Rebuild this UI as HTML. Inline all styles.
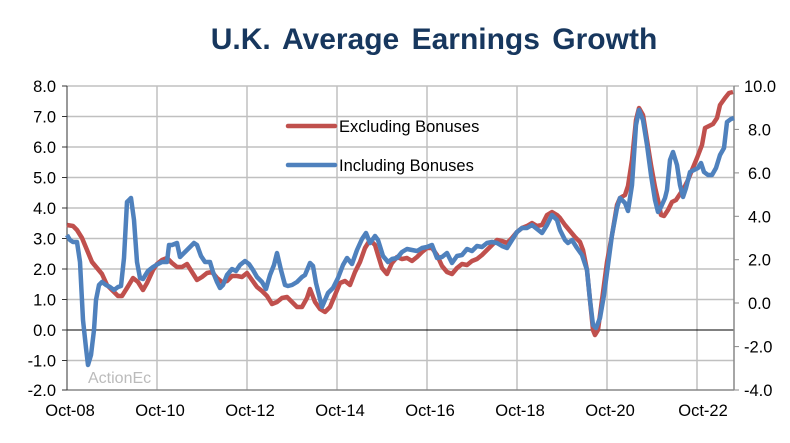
<!DOCTYPE html>
<html><head><style>body{margin:0;background:#fff}svg{display:block}</style></head><body>
<svg width="790" height="443" xmlns="http://www.w3.org/2000/svg" font-family="Liberation Sans, Arial, sans-serif">
<rect width="790" height="443" fill="#fff"/>
<text x="434" y="49" text-anchor="middle" font-size="30" font-weight="bold" fill="#17375e" word-spacing="4">U.K. Average Earnings Growth</text>
<g stroke="#c0c0c0" stroke-width="1.5">
<line x1="67" y1="86" x2="734" y2="86"/><line x1="67" y1="116.5" x2="734" y2="116.5"/><line x1="67" y1="147" x2="734" y2="147"/><line x1="67" y1="177.5" x2="734" y2="177.5"/><line x1="67" y1="208" x2="734" y2="208"/><line x1="67" y1="238.5" x2="734" y2="238.5"/><line x1="67" y1="269" x2="734" y2="269"/><line x1="67" y1="299.5" x2="734" y2="299.5"/><line x1="67" y1="360.5" x2="734" y2="360.5"/>
<line x1="157" y1="86" x2="157" y2="390"/><line x1="247" y1="86" x2="247" y2="390"/><line x1="337" y1="86" x2="337" y2="390"/><line x1="427" y1="86" x2="427" y2="390"/><line x1="517" y1="86" x2="517" y2="390"/><line x1="607" y1="86" x2="607" y2="390"/><line x1="697" y1="86" x2="697" y2="390"/>
</g>
<line x1="67" y1="330" x2="734" y2="330" stroke="#000" stroke-width="1"/>
<line x1="67" y1="390" x2="734" y2="390" stroke="#888" stroke-width="1.5"/>
<line x1="67" y1="86" x2="67" y2="390" stroke="#333" stroke-width="1"/>
<line x1="734" y1="86" x2="734" y2="390" stroke="#888" stroke-width="1.5"/>
<g stroke="#333"><line x1="62" y1="86" x2="67" y2="86"/><line x1="62" y1="116.5" x2="67" y2="116.5"/><line x1="62" y1="147" x2="67" y2="147"/><line x1="62" y1="177.5" x2="67" y2="177.5"/><line x1="62" y1="208" x2="67" y2="208"/><line x1="62" y1="238.5" x2="67" y2="238.5"/><line x1="62" y1="269" x2="67" y2="269"/><line x1="62" y1="299.5" x2="67" y2="299.5"/><line x1="62" y1="330" x2="67" y2="330"/><line x1="62" y1="360.5" x2="67" y2="360.5"/><line x1="62" y1="390" x2="67" y2="390"/></g>
<g stroke="#888"><line x1="734" y1="86" x2="739" y2="86"/><line x1="734" y1="129.4" x2="739" y2="129.4"/><line x1="734" y1="172.9" x2="739" y2="172.9"/><line x1="734" y1="216.3" x2="739" y2="216.3"/><line x1="734" y1="259.7" x2="739" y2="259.7"/><line x1="734" y1="303" x2="739" y2="303"/><line x1="734" y1="346.6" x2="739" y2="346.6"/><line x1="734" y1="390" x2="739" y2="390"/></g>
<g font-size="16.5" fill="#000" text-anchor="end">
<text x="56" y="92">8.0</text><text x="56" y="122.5">7.0</text><text x="56" y="153">6.0</text><text x="56" y="183.5">5.0</text><text x="56" y="214">4.0</text><text x="56" y="244.5">3.0</text><text x="56" y="275">2.0</text><text x="56" y="305.5">1.0</text><text x="56" y="336">0.0</text><text x="56" y="366.5">-1.0</text><text x="56" y="396">-2.0</text>
</g>
<g font-size="16.5" fill="#000" text-anchor="start">
<text x="744" y="92">10.0</text><text x="748" y="135.4">8.0</text><text x="748" y="178.9">6.0</text><text x="748" y="222.3">4.0</text><text x="748" y="265.7">2.0</text><text x="748" y="309">0.0</text><text x="744" y="352.6">-2.0</text><text x="744" y="396">-4.0</text>
</g>
<g font-size="16.5" fill="#000" text-anchor="middle">
<text x="70" y="416">Oct-08</text><text x="160" y="416">Oct-10</text><text x="250" y="416">Oct-12</text><text x="340" y="416">Oct-14</text><text x="430" y="416">Oct-16</text><text x="520" y="416">Oct-18</text><text x="610" y="416">Oct-20</text><text x="703" y="416">Oct-22</text>
</g>
<text x="88" y="383" font-size="16" fill="#bbb">ActionEc</text>
<polyline fill="none" stroke="#c0504d" stroke-width="4.5" stroke-linejoin="round" points="67,225 73,226 77,230 82,238 87,250 92,262 97,268 102,274 107,285 112,290 118,296 122,296 127,288 133,278 138,282 143,290 147,283 153,270 157,264 162,260 167,258 172,263 177,267 182,267 187,264 192,272 197,280 202,277 207,273 212,272 217,278 222,282 227,281 232,276 237,276 242,277 247,273 252,280 257,287 262,291 267,296 272,304 277,302 282,298 287,297 292,302 297,307 302,307 307,298 310,289 315,302 320,309 325,312 330,307 335,295 340,283 345,281 350,285 355,272 360,262 365,248 370,240 375,245 378,255 382,268 387,274 392,263 397,257 402,259 407,258 412,261 417,257 422,252 427,248 432,248 437,255 442,266 447,272 452,274 457,268 462,264 467,265 472,261 477,259 482,255 487,250 492,245 497,240 502,241 507,243 512,238 517,232 522,228 527,226 532,223 537,226 542,225 547,215 552,212 557,215 560,218 565,225 570,231 575,237 580,242 583,250 587,270 590,300 593,330 595,335 598,330 602,300 607,262 612,235 617,205 620,198 625,195 628,186 632,160 636,120 639,108 643,115 647,140 651,165 655,187 658,200 661,215 664,216 668,210 672,202 676,200 680,194 684,188 688,180 692,170 697,158 702,145 705,128 709,126 713,124 717,118 720,105 725,98 729,93 733,92"/>
<polyline fill="none" stroke="#4f81bd" stroke-width="4.5" stroke-linejoin="round" points="67,235 70,240 73,242 77,242 80,262 83,320 86,348 88,365 91,355 94,330 96,300 99,285 102,282 106,285 110,287 114,290 118,287 121,286 124,258 127,202 131,198 134,220 137,262 140,278 143,279 148,271 153,267 158,264 162,262 167,262 169,245 172,245 177,243 180,257 185,252 190,247 194,243 197,245 201,256 205,262 210,262 213,272 217,282 220,288 223,285 227,275 232,269 236,271 240,265 245,261 249,264 253,270 257,277 262,282 266,289 270,275 274,265 277,253 281,270 285,285 288,286 292,285 297,282 302,277 305,275 310,263 313,266 316,283 322,307 328,293 333,288 338,278 343,265 347,258 352,264 357,250 362,239 366,233 370,243 375,236 378,240 383,256 388,262 392,259 397,258 402,252 407,249 412,250 417,251 422,248 427,247 432,245 437,258 442,257 447,253 452,263 457,256 462,255 467,249 472,251 477,246 482,247 487,243 492,242 497,243 502,246 507,248 512,240 517,232 522,228 527,228 532,225 537,229 542,233 547,225 552,215 557,220 560,230 565,240 568,243 572,240 577,248 582,255 587,270 590,300 593,325 596,328 600,318 604,295 608,265 612,235 617,208 620,198 625,203 628,211 632,185 636,125 639,110 643,120 647,145 651,175 655,200 658,212 661,207 665,198 667,190 670,160 673,152 677,165 680,185 683,197 686,188 690,172 694,170 698,168 701,163 704,172 708,175 712,175 716,168 720,155 724,148 727,122 731,119 734,118"/>
<line x1="288" y1="126" x2="335" y2="126" stroke="#c0504d" stroke-width="4.5" stroke-linecap="round"/>
<text x="339" y="132" font-size="16.5" fill="#000">Excluding Bonuses</text>
<line x1="288" y1="165" x2="335" y2="165" stroke="#4f81bd" stroke-width="4.5" stroke-linecap="round"/>
<text x="339" y="171" font-size="16.5" fill="#000">Including Bonuses</text>
</svg>
</body></html>
